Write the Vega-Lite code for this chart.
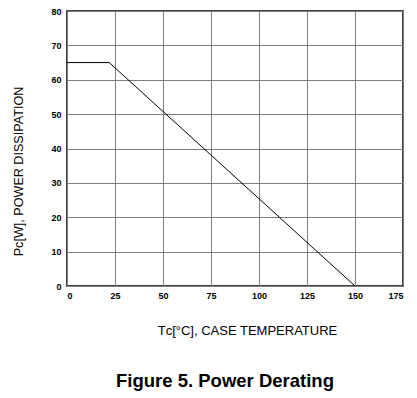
{
  "$schema": "https://vega.github.io/schema/vega-lite/v6.json",
  "autosize": "none",
  "width": 336,
  "height": 275,
  "padding": {"left": 67, "top": 11, "right": 14, "bottom": 112},
  "background": "white",
  "config": {
    "view": {"stroke": "black", "strokeWidth": 1.5},
    "font": "Liberation Sans"
  },
  "title": {
    "text": "Figure 5. Power Derating",
    "orient": "bottom",
    "font": "Liberation Sans",
    "fontSize": 18.5,
    "fontWeight": "bold",
    "color": "black",
    "anchor": "middle",
    "dx": -10,
    "offset": 35
  },
  "data": {
    "values": [
      {"temp": 0, "power": 65},
      {"temp": 22, "power": 65},
      {"temp": 150, "power": 0}
    ]
  },
  "mark": {"type": "line", "color": "black", "strokeWidth": 1},
  "encoding": {
    "x": {
      "field": "temp",
      "type": "quantitative",
      "scale": {"domain": [0, 175], "nice": false, "zero": false},
      "axis": {
        "values": [0, 25, 50, 75, 100, 125, 150, 175],
        "title": "Tᴄ[°C], CASE TEMPERATURE",
        "titleFont": "Liberation Sans",
        "titleFontSize": 13,
        "titleFontWeight": "normal",
        "titleColor": "black",
        "titleX": 180,
        "titleY": 44,
        "titleBaseline": "middle",
        "titleAlign": "center",
        "labelFont": "Liberation Sans",
        "labelFontSize": 9,
        "labelFontWeight": "bold",
        "labelColor": "black",
        "labelPadding": 5,
        "ticks": false,
        "domain": false,
        "grid": true,
        "gridColor": "#7f7f7f",
        "gridWidth": 1,
        "gridOpacity": 1
      }
    },
    "y": {
      "field": "power",
      "type": "quantitative",
      "scale": {"domain": [0, 80], "nice": false},
      "axis": {
        "values": [0, 10, 20, 30, 40, 50, 60, 70, 80],
        "title": "Pᴄ[W], POWER DISSIPATION",
        "titleFont": "Liberation Sans",
        "titleFontSize": 12.6,
        "titleFontWeight": "normal",
        "titleColor": "black",
        "titleX": -49,
        "titleY": 160,
        "titleAngle": -90,
        "titleBaseline": "middle",
        "titleAlign": "center",
        "labelFont": "Liberation Sans",
        "labelFontSize": 9,
        "labelFontWeight": "bold",
        "labelColor": "black",
        "labelPadding": 6,
        "ticks": false,
        "domain": false,
        "grid": true,
        "gridColor": "#7f7f7f",
        "gridWidth": 1,
        "gridOpacity": 1
      }
    }
  }
}
